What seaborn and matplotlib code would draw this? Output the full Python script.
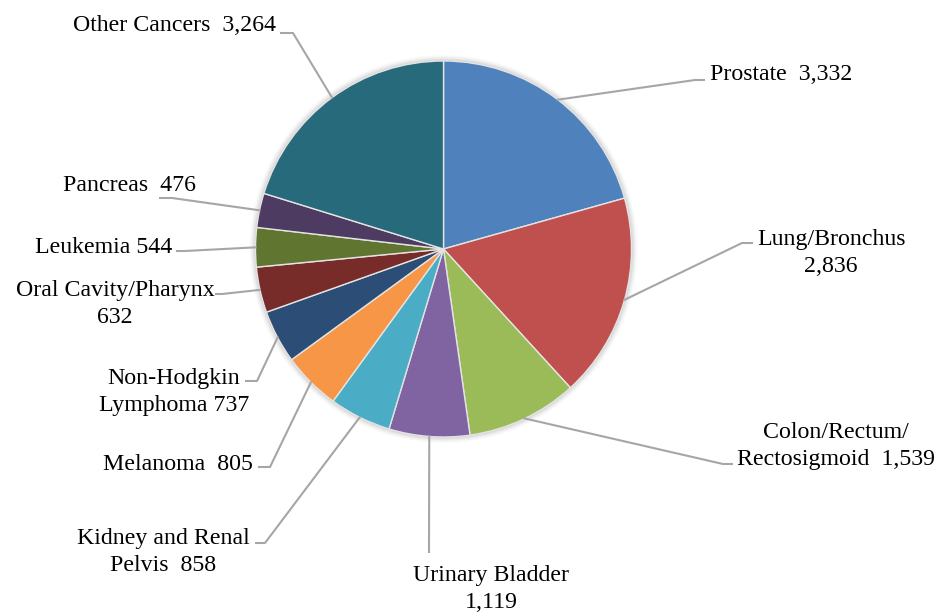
import numpy as np
import matplotlib
matplotlib.use("Agg")
import matplotlib.pyplot as plt
import seaborn as sns
from matplotlib.patches import Circle

# ---- data ----
categories = ["Prostate", "Lung/Bronchus", "Colon/Rectum/Rectosigmoid", "Urinary Bladder",
              "Kidney and Renal Pelvis", "Melanoma", "Non-Hodgkin Lymphoma",
              "Oral Cavity/Pharynx", "Leukemia", "Pancreas", "Other Cancers"]
values = [3332, 2836, 1539, 1119, 858, 805, 737, 632, 544, 476, 3264]
label_templates = ["Prostate  {}", "Lung/Bronchus\n{}", "Colon/Rectum/\nRectosigmoid  {}",
                   "Urinary Bladder\n{}", "Kidney and Renal\nPelvis  {}", "Melanoma  {}",
                   "Non-Hodgkin\nLymphoma {}", "Oral Cavity/Pharynx\n{}", "Leukemia {}",
                   "Pancreas  {}", "Other Cancers  {}"]
colors = ["#4F81BD", "#C0504D", "#9BBB59", "#8064A2", "#4BACC6", "#F79646",
          "#2C4D75", "#772C2A", "#5F7530", "#4D3B62", "#276A7C"]

# ---- layout (pixel coordinates, y downward) ----
W, H = 939, 613
CX, CY, R = 443.5, 249.0, 188.0
# (elbow x, elbow y, stub end x)
elbows = [(695, 80, 705), (742, 243, 753), (723, 464, 733), (429, 553, 429),
          (265, 543, 255), (270, 467, 258), (257, 381, 245), (222, 294, 215),
          (185, 251, 176), (172, 198, 159), (293, 33, 280)]
# (text x, first baseline y, ha)
text_pos = [(710, 80, "left"), (831, 245, "center"), (836, 438, "center"),
            (491, 581, "center"), (163, 544, "center"), (253, 470, "right"),
            (174, 384, "center"), (115, 296, "center"), (172, 253, "right"),
            (196, 191, "right"), (276, 31, "right")]
LINE_STEP = 27.0

sns.set_theme(style="white")
plt.rcParams["font.family"] = ["Liberation Serif", "DejaVu Serif"]
palette = sns.color_palette(colors)

fig = plt.figure(figsize=(W / 100, H / 100), dpi=100)
ax = fig.add_axes([0, 0, 1, 1])

# soft shadow / halo behind pie
for k, a in zip(range(6, 0, -1), [0.03, 0.04, 0.05, 0.06, 0.08, 0.10]):
    ax.add_patch(Circle((CX, CY), R + k, color="#808080", alpha=a, lw=0, zorder=0))
ax.add_patch(Circle((CX, CY), R, color="#d4d4d4", lw=0, zorder=0.5))

explode = [0.028] + [0.0] * (len(values) - 1)
wedges, _ = ax.pie(values, colors=palette, startangle=-90, counterclock=True,
                   center=(CX, CY), radius=R, explode=explode,
                   wedgeprops=dict(edgecolor="#e4e4e4", linewidth=1.0),
                   normalize=True)
for w in wedges:
    w.set_zorder(1)

ax.set_xlim(0, W)
ax.set_ylim(H, 0)
ax.set_aspect("equal", adjustable="box")
ax.axis("off")

fmt_vals = [f"{v:,}" for v in values]
for i, w in enumerate(wedges):
    mid = np.deg2rad((w.theta1 + w.theta2) / 2)
    cx, cy = w.center
    ax_pt = (cx + 0.995 * w.r * np.cos(mid), cy + 0.995 * w.r * np.sin(mid))
    ex, ey, sx = elbows[i]
    ax.plot([ax_pt[0], ex, sx], [ax_pt[1], ey, ey], color="#A6A6A6", lw=1.5,
            solid_capstyle="butt", zorder=2)
    label = label_templates[i].format(fmt_vals[i])
    tx, ty, ha = text_pos[i]
    for j, line in enumerate(label.split("\n")):
        ax.text(tx, ty + j * LINE_STEP, line, ha=ha, va="baseline",
                fontsize=17.2, color="#000000", zorder=3)

fig.savefig("out.png", dpi=100, facecolor="white")
